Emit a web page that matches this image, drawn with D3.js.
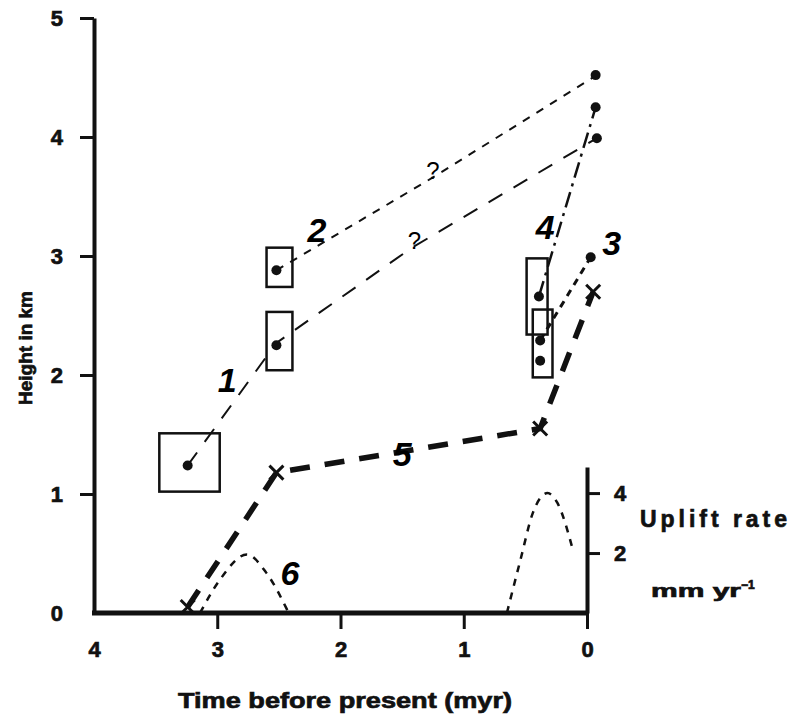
<!DOCTYPE html>
<html lang="en">
<head>
    <meta charset="utf-8">
    <title>Uplift history</title>
    <script type="text/javascript" src="https://d3js.org/d3.v7.min.js"></script>
    <style>
        body { margin: 0; background: #fff; }
        svg { display: block; font-family: "Liberation Sans", Arial, sans-serif; }
        .axis text { font-weight: bold; font-size: 22px; fill: #111; stroke: #111; stroke-width: 0.7px; }
        .axis line, .axis path { stroke: #111; }
        .heavy { font-weight: bold; fill: #111; stroke: #111; stroke-width: 0.7px; }
    </style>
</head>
<body>
    <div id="viz"></div>

    <script type="text/javascript">
        const width = 791;
        const height = 719;

        // axis ticks
        const xTicks = [4, 3, 2, 1, 0];
        const yTicks = [0, 1, 2, 3, 4, 5];
        const rateTicks = [2, 4];

        // series 1 (long dash)
        const s1Time = [3.24, 2.52, 1.42, -0.08];
        const s1Height = [1.24, 2.27, 3.07, 3.99];
        // series 2 (short dash)
        const s2Time = [2.52, 1.25, -0.08];
        const s2Height = [2.88, 3.66, 4.52];
        // series 3 (dotted)
        const s3Time = [0.38, -0.03];
        const s3Height = [2.29, 2.99];
        // series 4 (dash-dot)
        const s4Time = [0.39, -0.07];
        const s4Height = [2.66, 4.25];
        // series 5 (heavy dash, crosses)
        const s5Time = [3.24, 2.52, 0.38, -0.05];
        const s5Height = [0.05, 1.18, 1.55, 2.70];
        // series 6: uplift rate, mm/yr
        const s6aTime = [3.14, 2.98, 2.76, 2.60, 2.42];
        const s6aRate = [0, 1.1, 1.95, 1.33, 0];
        const s6bTime = [0.65, 0.54, 0.44, 0.38, 0.32, 0.24, 0.11];
        const s6bRate = [0, 1.77, 3.33, 3.83, 4.0, 3.67, 2.03];

        // dots and boxes (age / height ranges)
        const dotTime = [3.24, 2.52, 2.52, 0.39, 0.38, 0.38, -0.07, -0.07, -0.08, -0.03];
        const dotHeight = [1.24, 2.25, 2.88, 2.66, 2.29, 2.12, 4.52, 4.25, 3.99, 2.99];
        const boxTimeMax = [3.47, 2.60, 2.60, 0.49, 0.44];
        const boxTimeMin = [2.98, 2.39, 2.39, 0.32, 0.28];
        const boxHeightMin = [1.02, 2.04, 2.74, 2.34, 1.98];
        const boxHeightMax = [1.51, 2.53, 3.07, 2.98, 2.55];

        // curve labels
        const labelText = ["1", "2", "3", "4", "5", "6"];
        const labelTime = [2.92, 2.19, -0.2, 0.34, 1.50, 2.41];
        const labelHeight = [1.96, 3.22, 3.11, 3.24, 1.34, 0.34];
        const queryTime = [1.25, 1.40];
        const queryHeight = [3.72, 3.13];

        const svg = d3.select("#viz")
            .append("svg")
            .attr("width", width)
            .attr("height", height);

        const x = d3.scaleLinear().domain([4, 0]).range([94, 587]);
        const y = d3.scaleLinear().domain([0, 5]).range([613, 18]);
        const yRate = d3.scaleLinear().domain([0, 4.87]).range([613, 467]);
        const fmt = d3.format("d");

        // axes
        const xAxis = d3.axisBottom(x).tickValues(xTicks).tickFormat(fmt).tickSize(16).tickSizeOuter(0).tickPadding(12);
        const gx = svg.append("g").attr("class", "axis")
            .attr("transform", `translate(0,${y(0)})`)
            .call(xAxis);
        gx.select(".domain").attr("stroke-width", 5).attr("d", `M${x(4) - 2},0H${x(0) + 2}`);
        gx.selectAll(".tick line").attr("stroke-width", 3);
        gx.selectAll(".tick").filter(d => d === 4).select("line").remove();

        const yAxis = d3.axisLeft(y).tickValues(yTicks).tickFormat(fmt).tickSize(14).tickSizeOuter(0).tickPadding(17);
        const gy = svg.append("g").attr("class", "axis")
            .attr("transform", `translate(${x(4)},0)`)
            .call(yAxis);
        gy.select(".domain").attr("stroke-width", 4);
        gy.selectAll(".tick line").attr("stroke-width", 3);
        gy.selectAll(".tick").filter(d => d === 0).select("line").remove();

        const rAxis = d3.axisRight(yRate).tickValues(rateTicks).tickFormat(fmt).tickSize(13).tickSizeOuter(0).tickPadding(14);
        const gr = svg.append("g").attr("class", "axis")
            .attr("transform", `translate(${x(0)},0)`)
            .call(rAxis);
        gr.select(".domain").attr("stroke-width", 4);
        gr.selectAll(".tick line").attr("stroke-width", 3);

        // axis titles
        svg.append("text")
            .attr("class", "heavy")
            .attr("x", 178).attr("y", 708)
            .attr("textLength", 334).attr("lengthAdjust", "spacingAndGlyphs")
            .style("font-size", "22px")
            .text("Time before present (myr)");

        svg.append("text")
            .attr("class", "heavy")
            .attr("transform", "translate(32,348) rotate(-90)")
            .attr("text-anchor", "middle")
            .style("font-size", "19px")
            .text("Height in km");

        svg.append("text")
            .attr("class", "heavy")
            .attr("x", 640).attr("y", 527)
            .attr("textLength", 147).attr("lengthAdjust", "spacing")
            .style("font-size", "23px")
            .text("Uplift rate");

        const unit = svg.append("text")
            .attr("class", "heavy")
            .attr("x", 651).attr("y", 597)
            .style("font-size", "19px");
        unit.append("tspan").attr("textLength", 90).attr("lengthAdjust", "spacingAndGlyphs").text("mm yr");
        unit.append("tspan").attr("dy", -8).style("font-size", "12px").text("\u22121");

        // lines
        const line = d3.line().x(d => x(d[0])).y(d => y(d[1]));
        const rateLine = d3.line().x(d => x(d[0])).y(d => yRate(d[1])).curve(d3.curveMonotoneX);

        const series = [
            {t: s1Time, h: s1Height, dash: "16,13", w: 2},
            {t: s2Time, h: s2Height, dash: "8,8", w: 2},
            {t: s3Time, h: s3Height, dash: "7,6", w: 3},
            {t: s4Time, h: s4Height, dash: "16,6,3,6", w: 2.5},
            {t: s5Time, h: s5Height, dash: "20,15", w: 5.5}
        ];

        svg.append("g").attr("class", "lines")
            .selectAll("path")
            .data(series)
            .enter()
            .append("path")
                .attr("d", d => line(d.t.map((v, i) => [v, d.h[i]])))
                .attr("fill", "none")
                .attr("stroke", "#111")
                .attr("stroke-width", d => d.w)
                .attr("stroke-dasharray", d => d.dash);

        svg.append("g").attr("class", "rate")
            .selectAll("path")
            .data([[s6aTime, s6aRate], [s6bTime, s6bRate]])
            .enter()
            .append("path")
                .attr("d", d => rateLine(d[0].map((v, i) => [v, d[1][i]])))
                .attr("fill", "none")
                .attr("stroke", "#111")
                .attr("stroke-width", 2.5)
                .attr("stroke-dasharray", "7,7");

        // range boxes
        svg.append("g").attr("class", "boxes")
            .selectAll("rect")
            .data(boxTimeMax)
            .enter()
            .append("rect")
                .attr("x", (d, i) => x(boxTimeMax[i]))
                .attr("y", (d, i) => y(boxHeightMax[i]))
                .attr("width", (d, i) => x(boxTimeMin[i]) - x(boxTimeMax[i]))
                .attr("height", (d, i) => y(boxHeightMin[i]) - y(boxHeightMax[i]))
                .attr("fill", "none")
                .attr("stroke", "#111")
                .attr("stroke-width", 2.5);

        // dots
        svg.append("g").attr("class", "dots")
            .selectAll("circle")
            .data(dotTime)
            .enter()
            .append("circle")
                .attr("cx", (d, i) => x(dotTime[i]))
                .attr("cy", (d, i) => y(dotHeight[i]))
                .attr("r", 5)
                .attr("fill", "#111");

        // crosses on series 5
        const cross = 7;
        svg.append("g").attr("class", "crosses")
            .selectAll("path")
            .data(s5Time)
            .enter()
            .append("path")
                .attr("d", (d, i) => {
                    const cx = x(s5Time[i]), cy = y(s5Height[i]);
                    return `M${cx - cross},${cy - cross}L${cx + cross},${cy + cross}M${cx - cross},${cy + cross}L${cx + cross},${cy - cross}`;
                })
                .attr("stroke", "#111")
                .attr("stroke-width", 3);

        // curve numbers
        svg.append("g").attr("class", "labels")
            .selectAll("text")
            .data(labelText)
            .enter()
            .append("text")
                .attr("x", (d, i) => x(labelTime[i]))
                .attr("y", (d, i) => y(labelHeight[i]))
                .attr("text-anchor", "middle")
                .attr("dominant-baseline", "central")
                .style("font-weight", "bold")
                .style("font-style", "italic")
                .style("font-size", "34px")
                .text(d => d);

        svg.append("g").attr("class", "queries")
            .selectAll("text")
            .data(queryTime)
            .enter()
            .append("text")
                .attr("x", (d, i) => x(queryTime[i]))
                .attr("y", (d, i) => y(queryHeight[i]))
                .attr("text-anchor", "middle")
                .attr("dominant-baseline", "central")
                .style("font-size", "24px")
                .text("?");
    </script>
</body>
</html>
